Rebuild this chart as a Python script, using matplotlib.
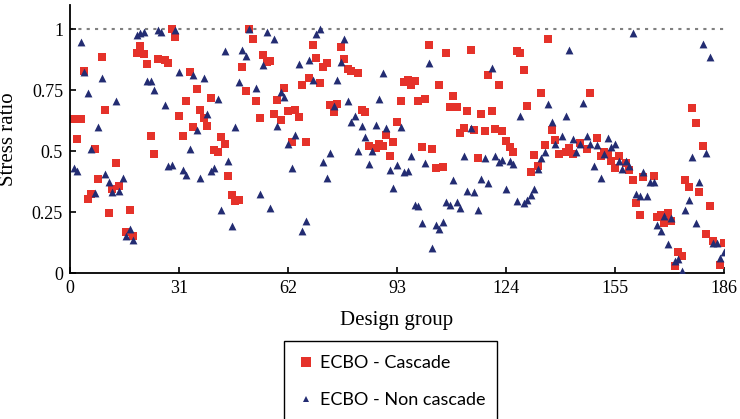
import matplotlib
matplotlib.use("Agg")
import matplotlib.pyplot as plt
from matplotlib.lines import Line2D
from matplotlib.patches import Rectangle

# ECBO - Cascade (design group, stress ratio)
cascade_groups = [1, 2, 3, 4, 5, 6, 7, 8, 9, 10, 11, 12, 13, 14, 16, 17, 18, 19, 20, 21,
                  22, 23, 24, 25, 27, 28, 29, 30, 31, 32, 33, 34, 35, 36, 37, 38, 39, 40, 41, 42,
                  43, 44, 45, 46, 47, 48, 49, 50, 51, 52, 53, 54, 55, 56, 57, 58, 59, 60, 61, 62,
                  63, 64, 65, 66, 67, 68, 69, 70, 71, 72, 73, 74, 75, 76, 77, 78, 79, 80, 82, 83,
                  84, 85, 87, 88, 89, 90, 91, 92, 93, 94, 95, 96, 97, 98, 99, 100, 101, 102, 103, 104,
                  105, 106, 107, 108, 109, 110, 111, 112, 113, 114, 115, 116, 117, 118, 119, 120, 121, 122, 123, 124,
                  125, 126, 127, 128, 129, 130, 131, 132, 133, 134, 135, 136, 137, 138, 139, 141, 142, 143, 145, 147,
                  148, 150, 151, 152, 153, 154, 155, 156, 158, 159, 160, 161, 162, 163, 166, 167, 168, 169, 170, 171,
                  172, 173, 174, 175, 176, 177, 178, 179, 180, 181, 182, 183, 185, 186]
cascade_ratio = [0.632, 0.550, 0.632, 0.831, 0.303, 0.325, 0.509, 0.385, 0.887, 0.667, 0.247, 0.344, 0.451, 0.358, 0.169, 0.258, 0.152, 0.901, 0.931, 0.897,
                 0.856, 0.564, 0.490, 0.879, 0.874, 0.860, 1.000, 0.970, 0.646, 0.564, 0.704, 0.824, 0.599, 0.756, 0.668, 0.635, 0.605, 0.719, 0.503, 0.497,
                 0.558, 0.531, 0.399, 0.321, 0.295, 0.300, 0.846, 0.745, 1.000, 0.962, 0.704, 0.636, 0.896, 0.866, 0.870, 0.654, 0.712, 0.627, 0.760, 0.663,
                 0.536, 0.671, 0.641, 0.772, 0.536, 0.801, 0.937, 0.883, 0.778, 0.846, 0.862, 0.690, 0.660, 0.693, 0.929, 0.879, 0.838, 0.829, 0.822, 0.671,
                 0.660, 0.523, 0.513, 0.531, 0.520, 0.567, 0.481, 0.536, 0.621, 0.704, 0.783, 0.794, 0.772, 0.789, 0.704, 0.517, 0.715, 0.937, 0.509, 0.429,
                 0.770, 0.435, 0.904, 0.682, 0.728, 0.682, 0.575, 0.595, 0.665, 0.915, 0.588, 0.473, 0.652, 0.583, 0.811, 0.665, 0.591, 0.772, 0.583, 0.542,
                 0.517, 0.498, 0.912, 0.901, 0.835, 0.687, 0.416, 0.484, 0.440, 0.737, 0.526, 0.962, 0.588, 0.547, 0.490, 0.498, 0.513, 0.490, 0.534, 0.509,
                 0.739, 0.556, 0.479, 0.498, 0.487, 0.460, 0.429, 0.481, 0.451, 0.421, 0.380, 0.287, 0.237, 0.396, 0.399, 0.229, 0.237, 0.204, 0.246, 0.213,
                 0.029, 0.086, 0.070, 0.383, 0.353, 0.678, 0.616, 0.333, 0.523, 0.159, 0.276, 0.133, 0.032, 0.122]

# ECBO - Non cascade
noncascade_groups = [g for g in range(1, 187) if g not in (52, 139)]
noncascade_ratio = [0.431, 0.417, 0.948, 0.824, 0.737, 0.509, 0.328, 0.599, 0.800, 0.405, 0.374, 0.333, 0.706, 0.336, 0.391, 0.152, 0.180, 0.136, 0.975, 0.986,
                    0.989, 0.787, 0.788, 0.753, 0.997, 0.989, 0.689, 0.438, 0.443, 0.997, 0.824, 0.421, 0.402, 0.509, 0.813, 0.586, 0.391, 0.801, 0.654, 0.420,
                    0.429, 0.715, 0.259, 0.912, 0.459, 0.191, 0.599, 0.783, 0.915, 0.890, 1.000, 0.760, 0.325, 0.852, 0.989, 0.265, 0.962, 0.602, 0.742, 0.723,
                    0.528, 0.429, 0.567, 0.858, 0.171, 0.215, 0.874, 0.794, 0.979, 1.000, 0.454, 0.388, 0.492, 0.684, 0.792, 0.866, 0.962, 0.704, 0.621, 0.646,
                    0.501, 0.605, 0.558, 0.449, 0.501, 0.607, 0.714, 0.819, 0.597, 0.424, 0.347, 0.443, 0.599, 0.413, 0.418, 0.481, 0.278, 0.273, 0.207, 0.451,
                    0.860, 0.103, 0.199, 0.182, 0.210, 0.292, 0.278, 0.380, 0.292, 0.265, 0.481, 0.336, 0.597, 0.331, 0.259, 0.385, 0.473, 0.369, 0.840, 0.481,
                    0.457, 0.462, 0.344, 0.460, 0.446, 0.295, 0.646, 0.289, 0.300, 0.320, 0.344, 0.427, 0.473, 0.495, 0.693, 0.621, 0.531, 0.561, 0.643, 0.915,
                    0.550, 0.495, 0.528, 0.698, 0.564, 0.528, 0.438, 0.525, 0.391, 0.487, 0.556, 0.517, 0.531, 0.460, 0.427, 0.460, 0.440, 0.986, 0.325, 0.314,
                    0.416, 0.317, 0.374, 0.374, 0.196, 0.174, 0.232, 0.119, 0.226, 0.051, 0.056, 0.010, 0.259, 0.300, 0.476, 0.207, 0.372, 0.940, 0.492, 0.887,
                    0.122, 0.122, 0.062, 0.086]

x_ticks = [0, 31, 62, 93, 124, 155, 186]
y_ticks = [0, 0.25, 0.5, 0.75, 1]
y_tick_labels = ["0", "0.25", "0.5", "0.75", "1"]

red = "#e5322a"
navy = "#232c72"
serif = "Liberation Serif"

fig = plt.figure(figsize=(7.4, 4.19), dpi=100)
ax = fig.add_axes([70 / 740, 146 / 419, 654 / 740, 268 / 419])

ax.plot([0, 186], [1, 1], linestyle=(0, (1.5, 2.5)), color="#808080", linewidth=1.5, zorder=1)
ax.scatter(cascade_groups, cascade_ratio, marker="s", s=40, color=red, linewidths=0, zorder=2)
ax.scatter(noncascade_groups, noncascade_ratio, marker="^", s=32, color=navy, linewidths=0, zorder=3)

ax.set_xlim(0, 186)
ax.set_ylim(0, 1.1)
ax.set_xticks(x_ticks)
ax.set_xticklabels([str(t) for t in x_ticks], fontfamily=serif, fontsize=13)
ax.set_yticks(y_ticks)
ax.set_yticklabels(y_tick_labels, fontfamily=serif, fontsize=13)
ax.tick_params(direction="in", length=4, width=1.2, pad=5)
for side in ["top", "right"]:
    ax.spines[side].set_visible(False)
for side in ["left", "bottom"]:
    ax.spines[side].set_linewidth(1.3)

ax.set_xlabel("Design group", fontfamily=serif, fontsize=15, labelpad=10)
ax.set_ylabel("Stress ratio", fontfamily=serif, fontsize=15, labelpad=10)

# legend box runs off the bottom of the image, so draw the frame by hand
fig.patches.append(Rectangle((284 / 740, -0.05), (497 - 284) / 740, 0.05 + (419 - 341) / 419,
                             transform=fig.transFigure, fill=False, edgecolor="black",
                             linewidth=1.0))
handles = [
    Line2D([], [], linestyle="none", marker="s", markersize=6.5, color=red, markeredgewidth=0),
    Line2D([], [], linestyle="none", marker="^", markersize=5, color=navy, markeredgewidth=0),
]
fig.legend(handles, ["ECBO - Cascade", "ECBO - Non cascade"],
           loc="upper left", bbox_to_anchor=(284 / 740, 1 - 341 / 419),
           prop={"family": "Lato", "size": 13}, frameon=False,
           handlelength=0.8, handletextpad=0.4,
           labelspacing=1.15, borderpad=0.8, borderaxespad=0)

fig.savefig("out.png", dpi=100)
